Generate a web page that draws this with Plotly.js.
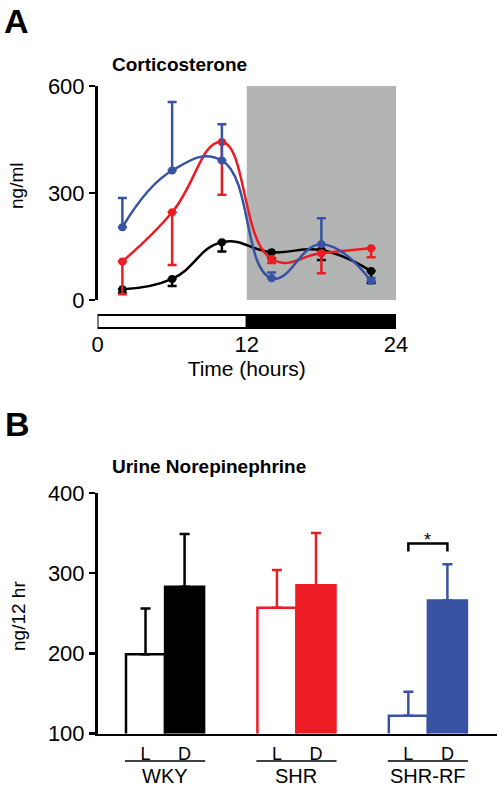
<!DOCTYPE html>
<html><head><meta charset="utf-8">
<script src="https://cdn.plot.ly/plotly-3.0.1.min.js"></script>
<style>html,body{margin:0;padding:0;background:#fff}#chart{width:498px;height:787px}</style>
</head><body><div id="chart"></div>
<script>
const W = 498, H = 787;
// Panel A: corticosterone (ng/ml) over time
const hours = [2, 6, 10, 14, 18, 22];
const wkyCort = [30, 59, 162, 134, 140, 81];
const wkyCortErr = [10, 20, 26, 17, 28, 33];
const shrCort = [108, 246, 443, 115, 131, 145];
const shrCortErr = [92, 148, 148, 11, 56, 25];
const rfCort = [204, 363, 391, 61, 156, 53];
const rfCortErr = [82, 192, 102, 16, 73, 9];
const timeTicks = [0, 12, 24];
const cortTicks = [0, 300, 600];
// Panel B: urine norepinephrine (ng/12 hr)
const groups = ['WKY', 'SHR', 'SHR-RF'];
const phases = ['L', 'D'];
const neLight = [199, 257, 122];
const neLightErr = [57, 47, 30];
const neDark = [283, 285, 266];
const neDarkErr = [66, 65, 45];
const neTicks = [100, 200, 300, 400];
const colors = ['#000000', '#ec1c24', '#3953a4'];

const FONT = '"Liberation Sans", Arial, Helvetica, sans-serif';
const px = x => x / W;
const py = y => 1 - y / H;
const off = 0.1486, bw = 0.297;

const traces = [];
const cortSeries = [[wkyCort, wkyCortErr, 'down'], [shrCort, shrCortErr, 'down'], [rfCort, rfCortErr, 'up']];
cortSeries.forEach((s, i) => {
  const zeros = s[1].map(() => 0);
  traces.push({
    type: 'scatter', mode: 'lines+markers', x: hours, y: s[0],
    xaxis: 'x', yaxis: 'y', showlegend: false,
    line: {color: colors[i], width: 2.5, shape: 'spline', smoothing: 1.3},
    marker: {color: colors[i], size: 8},
    error_y: {type: 'data', symmetric: false,
      array: s[2] === 'up' ? s[1] : zeros,
      arrayminus: s[2] === 'down' ? s[1] : zeros,
      color: colors[i], thickness: 2.5, width: 4.5}
  });
});

groups.forEach((g, i) => {
  traces.push({
    type: 'bar', x: [i - off, i + off], y: [neLight[i], neDark[i]],
    width: [bw, bw], xaxis: 'x2', yaxis: 'y2', showlegend: false, name: g,
    marker: {color: ['#ffffff', colors[i]], line: {color: colors[i], width: 2.5}},
    error_y: {type: 'data', symmetric: false, array: [neLightErr[i], neDarkErr[i]],
      arrayminus: [0, 0], color: colors[i], thickness: 2.5, width: 5}
  });
});

const barTickVals = [], barTickText = [];
groups.forEach((g, i) => { barTickVals.push(i - off, i + off); barTickText.push(phases[0], phases[1]); });

const shapes = [
  {type: 'rect', xref: 'x', yref: 'y', x0: 12, x1: 24, y0: 0, y1: 600, fillcolor: '#b3b4b4', line: {width: 0}, layer: 'below'},
  {type: 'rect', xref: 'x', yref: 'paper', x0: 0, x1: 12, y0: py(328), y1: py(315), fillcolor: '#ffffff', line: {color: '#000', width: 2}},
  {type: 'rect', xref: 'x', yref: 'paper', x0: 12, x1: 24, y0: py(328), y1: py(315), fillcolor: '#000000', line: {color: '#000', width: 2}},
  {type: 'path', xref: 'x2', yref: 'y2', path: `M ${2 - off},327 L ${2 - off},337 L ${2 + off},337 L ${2 + off},327`, line: {color: '#000', width: 2.5}}
];
groups.forEach((g, i) => {
  shapes.push({type: 'line', xref: 'x2', yref: 'paper', x0: i - 0.305, x1: i + 0.305, y0: py(761), y1: py(761), line: {color: '#000', width: 1.5}});
});

const annotations = [
  {text: '<b>A</b>', xref: 'paper', yref: 'paper', x: px(2), y: py(21), xanchor: 'left', yanchor: 'middle', showarrow: false, font: {size: 34, color: '#000'}},
  {text: '<b>B</b>', xref: 'paper', yref: 'paper', x: px(3), y: py(424), xanchor: 'left', yanchor: 'middle', showarrow: false, font: {size: 34, color: '#000'}},
  {text: '<b>Corticosterone</b>', xref: 'paper', yref: 'paper', x: px(110), y: py(64), xanchor: 'left', yanchor: 'middle', showarrow: false, font: {size: 19, color: '#000'}},
  {text: '<b>Urine Norepinephrine</b>', xref: 'paper', yref: 'paper', x: px(110), y: py(467), xanchor: 'left', yanchor: 'middle', showarrow: false, font: {size: 19, color: '#000'}},
  {text: 'ng/ml', xref: 'paper', yref: 'paper', x: px(17), y: py(186), xanchor: 'center', yanchor: 'middle', textangle: -90, showarrow: false, font: {size: 19, color: '#000'}},
  {text: 'ng/12 hr', xref: 'paper', yref: 'paper', x: px(18), y: py(616), xanchor: 'center', yanchor: 'middle', textangle: -90, showarrow: false, font: {size: 19, color: '#000'}},
  {text: '*', xref: 'x2', yref: 'paper', x: 2, y: py(540), xanchor: 'center', yanchor: 'middle', showarrow: false, font: {size: 18, color: '#000'}}
];
groups.forEach((g, i) => {
  annotations.push({text: g, xref: 'x2', yref: 'paper', x: i, y: py(775.5), xanchor: 'center', yanchor: 'middle', showarrow: false, font: {size: 20, color: '#000'}});
});

const layout = {
  width: W, height: H, margin: {l: 0, r: 0, t: 0, b: 0},
  paper_bgcolor: '#fff', plot_bgcolor: 'rgba(0,0,0,0)',
  font: {family: FONT, color: '#000', size: 20},
  showlegend: false,
  xaxis: {domain: [px(97.5), px(396)], range: [0, 24], tickvals: timeTicks, ticktext: timeTicks.map(String),
    showline: false, showgrid: false, zeroline: false, ticks: 'outside', ticklen: 25, tickcolor: 'rgba(0,0,0,0)',
    tickfont: {size: 22}, title: {text: 'Time (hours)', font: {size: 21}, standoff: 2}, anchor: 'y', fixedrange: true},
  yaxis: {domain: [py(300), py(86)], range: [0, 600], tickvals: cortTicks, ticktext: cortTicks.map(String),
    showline: true, linewidth: 2.5, linecolor: '#000', showgrid: false, zeroline: false,
    ticks: 'outside', ticklen: 6, tickwidth: 2.5, tickcolor: '#000', tickfont: {size: 22}, anchor: 'x', fixedrange: true},
  xaxis2: {domain: [px(97.5), px(497)], range: [-0.514, 2.526], tickvals: barTickVals, ticktext: barTickText,
    showline: true, linewidth: 2.5, linecolor: '#000', showgrid: false, zeroline: false,
    ticks: 'outside', ticklen: 2, tickcolor: 'rgba(0,0,0,0)', tickfont: {size: 18}, anchor: 'y2', fixedrange: true},
  yaxis2: {domain: [py(733.5), py(493)], range: [100, 400], tickvals: neTicks, ticktext: neTicks.map(String),
    showline: true, linewidth: 2.5, linecolor: '#000', showgrid: false, zeroline: false,
    ticks: 'outside', ticklen: 6, tickwidth: 2.5, tickcolor: '#000', tickfont: {size: 22}, anchor: 'x2', fixedrange: true},
  barmode: 'overlay',
  shapes: shapes, annotations: annotations
};
Plotly.newPlot('chart', traces, layout, {displayModeBar: false, staticPlot: true});
</script></body></html>
